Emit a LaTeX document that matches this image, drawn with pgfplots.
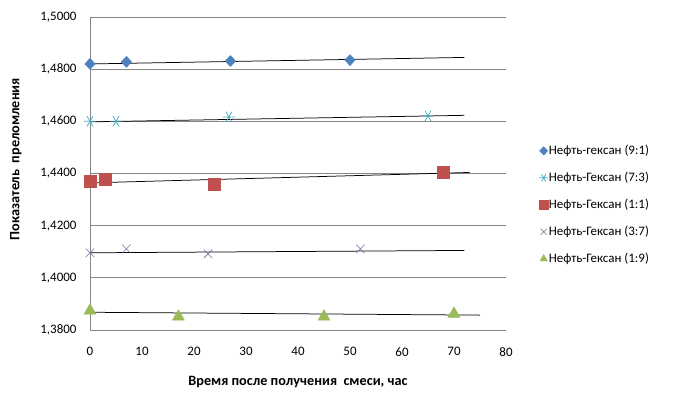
\documentclass[border=0pt]{standalone}
\usepackage{pgfplots}
\pgfplotsset{compat=1.18}
\usepackage{fontspec}
\setmainfont{Carlito}
\definecolor{cA}{HTML}{4F81BD}
\definecolor{cB}{HTML}{4BACC6}
\definecolor{cC}{HTML}{C0504D}
\definecolor{cD}{HTML}{8064A2}
\definecolor{cE}{HTML}{9BBB59}
\definecolor{gridc}{HTML}{878787}
\begin{document}
\begin{tikzpicture}
\useasboundingbox (0,0) rectangle (684bp,397bp);
\begin{axis}[
  at={(90bp,67bp)}, anchor=south west,
  width=416bp, height=313bp, scale only axis,
  xmin=0, xmax=80, ymin=1.38, ymax=1.50,
  xtick={0,10,20,30,40,50,60,70,80},
  ytick={1.38,1.40,1.42,1.44,1.46,1.48,1.50},
  scaled y ticks=false,
  axis lines*=left,
  axis line style={draw=gridc, line width=0.75bp},
  major tick length=0pt,
  ymajorgrids,
  grid style={draw=gridc, line width=0.75bp},
  /pgf/number format/assume math mode=true,
  tick label style={font=\fontsize{13}{15}\selectfont},
  yticklabel style={/pgf/number format/fixed, /pgf/number format/precision=4, /pgf/number format/fixed zerofill, /pgf/number format/use comma, xshift=-10bp},
  xticklabel style={yshift=-14bp},
  xlabel={\bfseries Время после получения\ \ смеси, час},
  ylabel={\bfseries Показатель\ \ преломления},
  xlabel style={at={(axis description cs:0.5,-0.166)}, anchor=center, font=\fontsize{14.3}{16}\selectfont},
  ylabel style={at={(axis description cs:-0.178,0.546)}, anchor=center, font=\fontsize{14.3}{16}\selectfont},
  legend style={at={(1.080,0.40)}, anchor=west, draw=none, fill=none, font=\fontsize{13}{15}\selectfont, row sep=12bp, inner sep=0pt, nodes={inner xsep=1bp}},
  legend cell align=left,
  legend image code/.code={\draw[#1, mark size=4.2bp] plot coordinates {(0.12cm,0cm)};},
]
% trendlines
\addplot[black, line width=0.75bp, forget plot] coordinates {(0,1.4820) (72,1.4845)};
\addplot[black, line width=0.75bp, forget plot] coordinates {(0,1.4598) (72,1.4623)};
\addplot[black, line width=0.75bp, forget plot] coordinates {(0,1.4364) (73,1.4404)};
\addplot[black, line width=0.75bp, forget plot] coordinates {(0,1.4096) (72,1.4105)};
\addplot[black, line width=0.75bp, forget plot] coordinates {(0,1.3868) (75,1.3857)};
% data
\addplot[only marks, mark=diamond*, mark size=5.5bp, color=cA, mark options={xscale=1.3}] coordinates {(0,1.4820) (7,1.4828) (27,1.4831) (50,1.4835)};
\addlegendentry{Нефть-гексан (9:1)}
\addplot[only marks, mark=asterisk, mark size=6bp, color=cB, line width=0.75bp, mark options={rotate=90}] coordinates {(0,1.4600) (5,1.4600) (26.7,1.4617) (65,1.4621)};
\addlegendentry{Нефть-Гексан (7:3)}
\addplot[only marks, mark=square*, mark size=6bp, color=cC] coordinates {(0,1.4372) (3,1.4379) (23.8,1.4360) (67.9,1.4406)};
\addlegendentry{Нефть-Гексан (1:1)}
\addplot[only marks, mark=x, mark size=6bp, color=cD, line width=0.6bp] coordinates {(0,1.4096) (7,1.4111) (22.7,1.4092) (52,1.4111)};
\addlegendentry{Нефть-Гексан (3:7)}
\addplot[only marks, mark=triangle*, mark size=7bp, color=cE] coordinates {(0,1.3874) (17,1.3851) (45,1.3851) (70,1.3862)};
\addlegendentry{Нефть-Гексан (1:9)}
\end{axis}
\end{tikzpicture}
\end{document}
